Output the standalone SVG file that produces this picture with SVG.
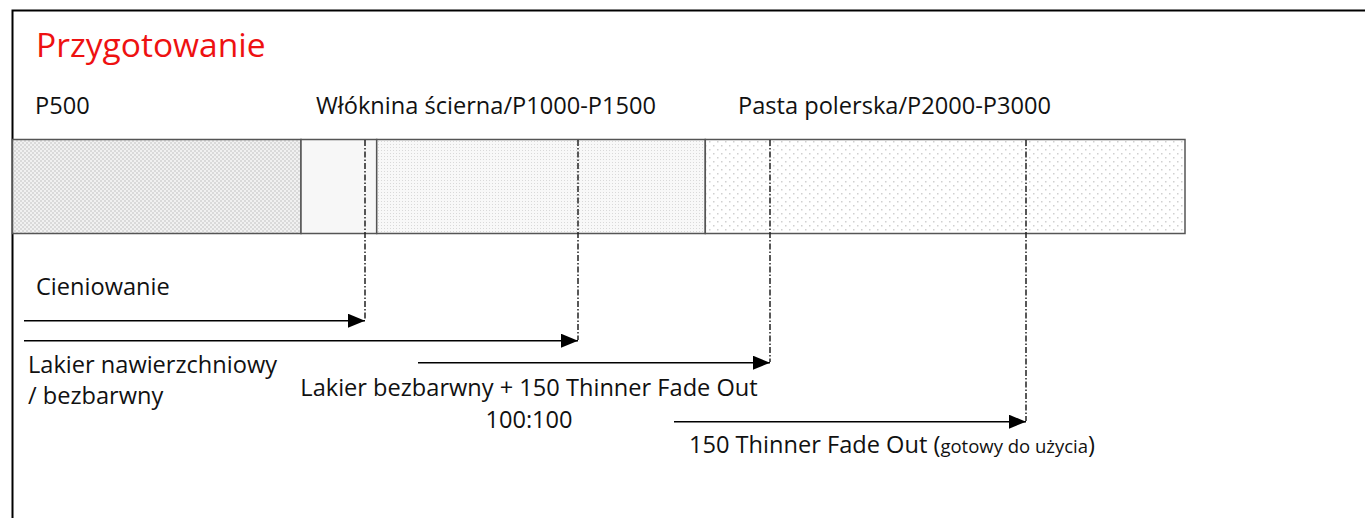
<svg xmlns="http://www.w3.org/2000/svg" width="1365" height="518" viewBox="0 0 1365 518">
  <style>
    .t { font-family: "Open Sans", "Liberation Sans", sans-serif; font-size: 23.6px; fill: #111; }
    .title { font-family: "Open Sans", "Liberation Sans", sans-serif; font-size: 33.6px; fill: #ee1111; }
    .small { font-size: 18.5px; }
    .bar { stroke: #555; stroke-width: 1.5; }
    .guide { stroke: #222; stroke-width: 1.5; stroke-dasharray: 6 2 1.5 2; fill: none; }
    .arrow { stroke: #000; stroke-width: 1.5; fill: none; marker-end: url(#ah); }
  </style>
  <defs>
    <pattern id="checker" width="4" height="4" patternUnits="userSpaceOnUse">
      <rect width="4" height="4" fill="#f1f1f1"/>
      <rect width="2" height="2" fill="#dadada"/>
      <rect x="2" y="2" width="2" height="2" fill="#dadada"/>
    </pattern>
    <pattern id="finedots" width="3" height="3" patternUnits="userSpaceOnUse">
      <rect width="3" height="3" fill="#f8f8f8"/>
      <rect width="1" height="1" fill="#d9d9d9"/>
    </pattern>
    <pattern id="dots" width="8" height="8" patternUnits="userSpaceOnUse">
      <rect width="8" height="8" fill="#ffffff"/>
      <rect x="1" y="1" width="1.5" height="1.5" fill="#d0d0d0"/>
      <rect x="5" y="5" width="1.5" height="1.5" fill="#d0d0d0"/>
    </pattern>
    <marker id="ah" markerWidth="17" markerHeight="14" refX="17" refY="7" orient="auto" markerUnits="userSpaceOnUse">
      <path d="M0,0 L17,7 L0,14 Z" fill="#000"/>
    </marker>
  </defs>

  <rect x="12.5" y="10.5" width="1400" height="600" fill="#fff" stroke="#000" stroke-width="2"/>

  <g id="title">
    <text class="title" x="36" y="57">Przygotowanie</text>
  </g>

  <g id="labels-top">
    <text class="t" x="35" y="114">P500</text>
    <text class="t" x="316" y="114">Włóknina ścierna/P1000-P1500</text>
    <text class="t" x="738" y="114">Pasta polerska/P2000-P3000</text>
  </g>

  <g id="bar-p500">
    <rect class="bar" x="12.5" y="139.5" width="288.5" height="94" fill="url(#checker)"/>
  </g>
  <g id="bar-gap">
    <rect class="bar" x="301" y="139.5" width="75.7" height="94" fill="#f7f7f7"/>
  </g>
  <g id="bar-wloknina">
    <rect class="bar" x="376.7" y="139.5" width="328.6" height="94" fill="url(#finedots)"/>
  </g>
  <g id="bar-pasta">
    <rect class="bar" x="705.3" y="139.5" width="479.7" height="94" fill="url(#dots)"/>
  </g>

  <g id="connectors">
    <line class="guide" x1="365" y1="140" x2="365" y2="320"/>
    <line class="guide" x1="578" y1="140" x2="578" y2="340"/>
    <line class="guide" x1="770" y1="140" x2="770" y2="362"/>
    <line class="guide" x1="1026" y1="140" x2="1026" y2="421"/>
    <line class="arrow" x1="24" y1="320.7" x2="365" y2="320.7"/>
    <line class="arrow" x1="24" y1="340.7" x2="578" y2="340.7"/>
    <line class="arrow" x1="418" y1="362.7" x2="770" y2="362.7"/>
    <line class="arrow" x1="674" y1="421.7" x2="1026" y2="421.7"/>
  </g>

  <g id="label-cieniowanie">
    <text class="t" x="36" y="295">Cieniowanie</text>
  </g>
  <g id="label-lakier">
    <text class="t" x="28" y="373">Lakier nawierzchniowy</text>
    <text class="t" x="28" y="404">/ bezbarwny</text>
  </g>
  <g id="label-lakier-bezbarwny">
    <text class="t" x="529" y="396" text-anchor="middle">Lakier bezbarwny + 150 Thinner Fade Out</text>
    <text class="t" x="529" y="428" text-anchor="middle">100:100</text>
  </g>
  <g id="label-thinner">
    <text class="t" x="689" y="453">150 Thinner Fade Out (<tspan class="small">gotowy do użycia</tspan>)</text>
  </g>
</svg>
